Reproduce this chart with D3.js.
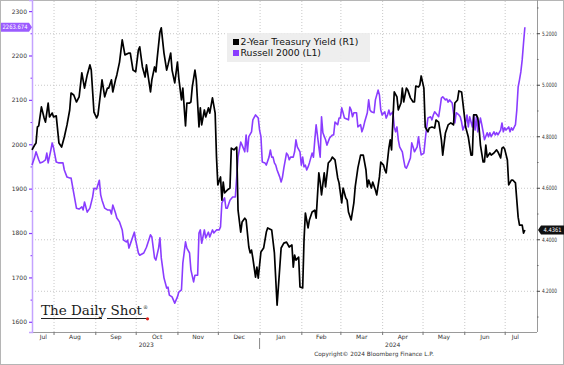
<!DOCTYPE html>
<html>
<head>
<meta charset="utf-8">
<script src="https://cdn.jsdelivr.net/npm/d3@7"></script>
<style>
  body { margin: 0; background: #fff; }
  svg { display: block; font-family: "DejaVu Sans", Verdana, sans-serif; }
</style>
</head>
<body>
<svg id="chart" width="564" height="365"></svg>
<script>
// 2-year treasury yield (right axis, %)
const yieldSeries = [
  ["2023-07-16",4.747],["2023-07-18",4.766],["2023-07-19",4.774],["2023-07-20",4.836],["2023-07-21",4.840],
  ["2023-07-23",4.914],["2023-07-25",4.871],["2023-07-26",4.855],["2023-07-28",4.929],["2023-07-29",4.875],
  ["2023-07-31",4.890],["2023-08-01",4.875],["2023-08-03",4.879],["2023-08-05",4.774],["2023-08-07",4.758],
  ["2023-08-09",4.797],["2023-08-11",4.844],["2023-08-13",4.902],["2023-08-14",4.968],["2023-08-16",4.960],
  ["2023-08-18",4.933],["2023-08-20",4.953],["2023-08-22",5.046],["2023-08-24",4.987],["2023-08-26",5.038],
  ["2023-08-28",5.077],["2023-08-29",5.057],["2023-08-31",4.894],["2023-09-02",4.871],["2023-09-03",4.883],
  ["2023-09-05",4.972],["2023-09-06",5.019],["2023-09-08",4.953],["2023-09-10",4.987],["2023-09-11",4.987],
  ["2023-09-13",5.019],["2023-09-14",4.972],["2023-09-16",5.019],["2023-09-17",5.038],["2023-09-19",5.088],
  ["2023-09-21",5.174],["2023-09-23",5.116],["2023-09-26",5.123],["2023-09-27",5.123],["2023-09-29",5.057],
  ["2023-10-01",5.050],["2023-10-03",5.135],["2023-10-04",5.147],["2023-10-06",5.069],["2023-10-08",5.030],
  ["2023-10-09",5.077],["2023-10-12",4.972],["2023-10-13",5.019],["2023-10-15",5.069],["2023-10-16",5.050],
  ["2023-10-17",5.104],["2023-10-19",5.205],["2023-10-20",5.221],["2023-10-22",5.123],["2023-10-24",5.057],
  ["2023-10-25",5.077],["2023-10-27",5.123],["2023-10-28",5.057],["2023-10-30",5.007],["2023-11-01",5.088],
  ["2023-11-02",5.026],["2023-11-04",4.941],["2023-11-05",4.987],["2023-11-07",4.840],["2023-11-08",4.929],
  ["2023-11-10",4.929],["2023-11-11",4.933],["2023-11-12",4.991],["2023-11-14",5.057],["2023-11-15",5.019],
  ["2023-11-17",4.836],["2023-11-18",4.910],["2023-11-19",4.844],["2023-11-21",4.902],["2023-11-22",4.875],
  ["2023-11-24",4.910],["2023-11-25",4.890],["2023-11-27",4.949],["2023-11-29",4.890],["2023-11-30",4.719],
  ["2023-12-01",4.611],["2023-12-03",4.642],["2023-12-04",4.552],["2023-12-05",4.622],["2023-12-06",4.580],
  ["2023-12-08",4.591],["2023-12-10",4.599],["2023-12-11",4.754],["2023-12-13",4.747],["2023-12-15",4.758],
  ["2023-12-16",4.513],["2023-12-18",4.428],["2023-12-19",4.467],["2023-12-21",4.482],["2023-12-22",4.475],
  ["2023-12-24",4.370],["2023-12-25",4.347],["2023-12-26",4.358],["2023-12-27",4.327],["2023-12-29",4.253],
  ["2023-12-30",4.292],["2023-12-31",4.249],["2024-01-02",4.351],["2024-01-04",4.366],["2024-01-06",4.428],
  ["2024-01-07",4.444],["2024-01-10",4.436],["2024-01-12",4.347],["2024-01-14",4.144],["2024-01-16",4.292],
  ["2024-01-17",4.366],["2024-01-19",4.385],["2024-01-21",4.389],["2024-01-23",4.370],["2024-01-25",4.378],
  ["2024-01-26",4.292],["2024-01-27",4.339],["2024-01-28",4.319],["2024-01-30",4.331],["2024-01-31",4.215],
  ["2024-02-02",4.211],["2024-02-03",4.397],["2024-02-04",4.502],["2024-02-06",4.444],["2024-02-07",4.475],
  ["2024-02-09",4.506],["2024-02-11",4.513],["2024-02-12",4.482],["2024-02-14",4.658],["2024-02-15",4.622],
  ["2024-02-16",4.572],["2024-02-18",4.658],["2024-02-19",4.603],["2024-02-21",4.696],["2024-02-23",4.708],
  ["2024-02-24",4.719],["2024-02-26",4.708],["2024-02-28",4.638],["2024-02-29",4.619],["2024-03-02",4.541],
  ["2024-03-03",4.599],["2024-03-05",4.560],["2024-03-06",4.552],["2024-03-07",4.506],["2024-03-09",4.475],
  ["2024-03-11",4.541],["2024-03-12",4.603],["2024-03-14",4.677],["2024-03-16",4.727],["2024-03-18",4.727],
  ["2024-03-20",4.669],["2024-03-21",4.603],["2024-03-22",4.630],["2024-03-24",4.599],["2024-03-25",4.622],
  ["2024-03-27",4.591],["2024-03-28",4.572],["2024-03-30",4.642],["2024-03-31",4.700],["2024-04-02",4.688],
  ["2024-04-03",4.669],["2024-04-04",4.658],["2024-04-06",4.754],["2024-04-07",4.786],["2024-04-08",4.747],
  ["2024-04-09",4.863],["2024-04-10",4.972],["2024-04-12",4.953],["2024-04-13",4.902],["2024-04-15",4.929],
  ["2024-04-16",4.987],["2024-04-17",4.933],["2024-04-19",4.987],["2024-04-20",4.980],["2024-04-22",4.949],
  ["2024-04-24",4.933],["2024-04-25",4.933],["2024-04-26",4.995],["2024-04-28",4.991],["2024-04-29",4.999],
  ["2024-04-30",5.034],["2024-05-02",4.987],["2024-05-03",4.836],["2024-05-05",4.817],["2024-05-06",4.832],
  ["2024-05-08",4.836],["2024-05-10",4.832],["2024-05-11",4.863],["2024-05-13",4.855],["2024-05-15",4.786],
  ["2024-05-16",4.727],["2024-05-18",4.813],["2024-05-20",4.844],["2024-05-22",4.852],["2024-05-24",4.844],
  ["2024-05-25",4.929],["2024-05-27",4.941],["2024-05-28",4.976],["2024-05-30",4.972],["2024-05-31",4.929],
  ["2024-06-01",4.883],["2024-06-02",4.836],["2024-06-04",4.797],["2024-06-06",4.727],["2024-06-07",4.727],
  ["2024-06-08",4.883],["2024-06-10",4.883],["2024-06-11",4.871],["2024-06-12",4.832],["2024-06-13",4.766],
  ["2024-06-15",4.700],["2024-06-16",4.700],["2024-06-17",4.766],["2024-06-18",4.719],["2024-06-20",4.735],
  ["2024-06-21",4.727],["2024-06-23",4.735],["2024-06-25",4.747],["2024-06-26",4.739],["2024-06-28",4.716],
  ["2024-06-29",4.754],["2024-06-30",4.758],["2024-07-01",4.750],["2024-07-03",4.708],["2024-07-04",4.611],
  ["2024-07-06",4.630],["2024-07-07",4.630],["2024-07-09",4.619],["2024-07-10",4.552],["2024-07-11",4.486],
  ["2024-07-12",4.455],["2024-07-14",4.455],["2024-07-15",4.424],["2024-07-16",4.4361]
];

// Russell 2000 index (left axis)
const russellSeries = [
  ["2023-07-16",1953],["2023-07-18",1971],["2023-07-19",1983],["2023-07-21",1965],["2023-07-22",1958],
  ["2023-07-24",1960],["2023-07-26",1965],["2023-07-27",1980],["2023-07-28",1958],["2023-07-30",1987],
  ["2023-07-31",2003],["2023-08-01",1992],["2023-08-03",1960],["2023-08-05",1958],["2023-08-06",1958],
  ["2023-08-08",1958],["2023-08-09",1942],["2023-08-11",1926],["2023-08-13",1924],["2023-08-14",1924],
  ["2023-08-16",1890],["2023-08-18",1856],["2023-08-20",1854],["2023-08-22",1859],["2023-08-23",1852],
  ["2023-08-24",1870],["2023-08-26",1847],["2023-08-28",1856],["2023-08-30",1881],["2023-08-31",1901],
  ["2023-09-02",1899],["2023-09-04",1919],["2023-09-05",1886],["2023-09-06",1874],["2023-09-08",1856],
  ["2023-09-10",1852],["2023-09-12",1852],["2023-09-13",1843],["2023-09-14",1863],["2023-09-16",1845],
  ["2023-09-17",1834],["2023-09-19",1825],["2023-09-21",1807],["2023-09-22",1784],["2023-09-24",1780],
  ["2023-09-25",1784],["2023-09-26",1766],["2023-09-28",1784],["2023-09-30",1802],["2023-10-01",1784],
  ["2023-10-03",1755],["2023-10-04",1750],["2023-10-07",1755],["2023-10-09",1768],["2023-10-12",1796],
  ["2023-10-13",1791],["2023-10-15",1744],["2023-10-16",1739],["2023-10-18",1766],["2023-10-19",1789],
  ["2023-10-20",1744],["2023-10-22",1699],["2023-10-24",1676],["2023-10-25",1678],["2023-10-26",1660],
  ["2023-10-28",1656],["2023-10-30",1642],["2023-11-01",1656],["2023-11-02",1667],["2023-11-04",1672],
  ["2023-11-05",1732],["2023-11-07",1780],["2023-11-08",1766],["2023-11-10",1755],["2023-11-11",1717],
  ["2023-11-13",1690],["2023-11-14",1705],["2023-11-16",1705],["2023-11-17",1800],["2023-11-18",1807],
  ["2023-11-19",1777],["2023-11-21",1807],["2023-11-22",1789],["2023-11-24",1802],["2023-11-25",1791],
  ["2023-11-27",1807],["2023-11-28",1800],["2023-11-30",1807],["2023-12-02",1807],["2023-12-03",1814],
  ["2023-12-04",1868],["2023-12-06",1879],["2023-12-07",1856],["2023-12-08",1856],["2023-12-10",1874],
  ["2023-12-12",1881],["2023-12-14",1881],["2023-12-15",1926],["2023-12-16",1971],["2023-12-18",2005],
  ["2023-12-19",1998],["2023-12-21",1983],["2023-12-22",2021],["2023-12-23",1983],["2023-12-24",2017],
  ["2023-12-26",2028],["2023-12-27",2055],["2023-12-29",2066],["2023-12-31",2059],["2024-01-01",2032],
  ["2024-01-02",2017],["2024-01-03",1960],["2024-01-05",1958],["2024-01-06",1953],["2024-01-08",1971],
  ["2024-01-09",1987],["2024-01-10",1971],["2024-01-11",1971],["2024-01-12",1958],["2024-01-13",1953],
  ["2024-01-14",1942],["2024-01-16",1926],["2024-01-17",1915],["2024-01-18",1926],["2024-01-19",1946],
  ["2024-01-21",1980],["2024-01-22",1976],["2024-01-23",1965],["2024-01-24",1971],["2024-01-26",1971],
  ["2024-01-27",1983],["2024-01-28",2010],["2024-01-29",1994],["2024-01-31",1983],["2024-02-01",1953],
  ["2024-02-02",1971],["2024-02-03",1949],["2024-02-04",1953],["2024-02-05",1942],["2024-02-06",1949],
  ["2024-02-07",1958],["2024-02-09",1980],["2024-02-10",1971],["2024-02-11",2010],["2024-02-12",2044],
  ["2024-02-14",1994],["2024-02-15",1971],["2024-02-16",2062],["2024-02-17",2026],["2024-02-19",2010],
  ["2024-02-20",1998],["2024-02-22",2014],["2024-02-24",2021],["2024-02-25",2021],["2024-02-26",2050],
  ["2024-02-28",2044],["2024-02-29",2059],["2024-03-01",2059],["2024-03-02",2082],["2024-03-03",2071],
  ["2024-03-04",2059],["2024-03-07",2055],["2024-03-08",2084],["2024-03-09",2077],["2024-03-10",2062],
  ["2024-03-11",2071],["2024-03-13",2071],["2024-03-14",2039],["2024-03-16",2044],["2024-03-17",2028],
  ["2024-03-18",2037],["2024-03-19",2050],["2024-03-21",2071],["2024-03-22",2100],["2024-03-23",2077],
  ["2024-03-24",2073],["2024-03-26",2071],["2024-03-27",2100],["2024-03-29",2122],["2024-03-30",2111],
  ["2024-03-31",2077],["2024-04-01",2066],["2024-04-03",2073],["2024-04-04",2059],["2024-04-05",2066],
  ["2024-04-06",2077],["2024-04-07",2066],["2024-04-09",2073],["2024-04-10",2039],["2024-04-11",2028],
  ["2024-04-12",2039],["2024-04-13",2010],["2024-04-14",1994],["2024-04-16",1983],["2024-04-17",1965],
  ["2024-04-18",1949],["2024-04-19",1946],["2024-04-20",1953],["2024-04-22",1969],["2024-04-23",2003],
  ["2024-04-24",1994],["2024-04-25",1983],["2024-04-27",1994],["2024-04-28",2017],["2024-04-29",1994],
  ["2024-04-30",1976],["2024-05-02",1980],["2024-05-03",2010],["2024-05-04",2037],["2024-05-05",2059],
  ["2024-05-07",2062],["2024-05-08",2055],["2024-05-09",2066],["2024-05-10",2073],["2024-05-12",2066],
  ["2024-05-13",2062],["2024-05-14",2082],["2024-05-15",2104],["2024-05-16",2107],["2024-05-18",2100],
  ["2024-05-19",2102],["2024-05-20",2095],["2024-05-21",2100],["2024-05-23",2093],["2024-05-24",2071],
  ["2024-05-25",2048],["2024-05-26",2071],["2024-05-28",2066],["2024-05-29",2062],["2024-05-30",2050],
  ["2024-05-31",2032],["2024-06-02",2048],["2024-06-03",2066],["2024-06-04",2039],["2024-06-05",2062],
  ["2024-06-07",2039],["2024-06-08",2066],["2024-06-09",2032],["2024-06-10",2062],["2024-06-11",2028],
  ["2024-06-13",2059],["2024-06-14",2044],["2024-06-15",2028],["2024-06-16",2010],["2024-06-18",2026],
  ["2024-06-19",2017],["2024-06-20",2026],["2024-06-21",2017],["2024-06-23",2028],["2024-06-24",2021],
  ["2024-06-25",2026],["2024-06-26",2021],["2024-06-28",2032],["2024-06-29",2048],["2024-06-30",2028],
  ["2024-07-01",2037],["2024-07-02",2032],["2024-07-04",2039],["2024-07-05",2028],["2024-07-06",2037],
  ["2024-07-07",2032],["2024-07-09",2044],["2024-07-10",2077],["2024-07-11",2129],["2024-07-12",2145],
  ["2024-07-13",2163],["2024-07-14",2190],["2024-07-15",2228],["2024-07-16",2263.674]
];

const leftTicks = [1600, 1700, 1800, 1900, 2000, 2100, 2200, 2300];
const leftMinor = [1650, 1750, 1850, 1950, 2050, 2150, 2250];
const rightTicks = [4.2, 4.4, 4.6, 4.8, 5.0, 5.2];
const rightMinor = [4.1, 4.3, 4.5, 4.7, 4.9, 5.1, 5.3];
const monthLabels = ["Jul", "Aug", "Sep", "Oct", "Nov", "Dec", "Jan", "Feb", "Mar", "Apr", "May", "Jun", "Jul"];
const yearLabels = ["2023", "2024"];
const legendLabels = ["2-Year Treasury Yield (R1)", "Russell 2000 (L1)"];

const purple = "#8a3cff";
const parse = d3.timeParse("%Y-%m-%d");
const yieldData = yieldSeries.map(([d, v]) => ({ date: parse(d), value: v }));
const russellData = russellSeries.map(([d, v]) => ({ date: parse(d), value: v }));

const svg = d3.select("#chart");
const plot = { left: 32, right: 537, top: 0, bottom: 332 };

const x = d3.scaleTime()
  .domain([parse("2023-07-16"), parse("2024-07-25")])
  .range([plot.left, plot.right]);
const yL = d3.scaleLinear().domain([1577, 2325]).range([plot.bottom, plot.top]);
const yR = d3.scaleLinear().domain([4.04, 5.329]).range([plot.bottom, plot.top]);

// outer frame
svg.append("rect")
  .attr("x", 0.5).attr("y", 0.5).attr("width", 563).attr("height", 364)
  .attr("fill", "#fff").attr("stroke", "#b5b5b5");

// grid: horizontal lines follow the right axis, vertical ones the months
const firstDate = yieldData[0].date;
const lastDate = yieldData[yieldData.length - 1].date;
const monthStarts = d3.timeMonth.range(d3.timeMonth.ceil(firstDate), lastDate);

svg.append("g")
  .attr("transform", `translate(${plot.right},0)`)
  .call(d3.axisLeft(yR).tickValues(rightTicks).tickSize(plot.right - plot.left).tickFormat(""))
  .call((g) => g.select(".domain").remove())
  .call((g) => g.selectAll(".tick line").attr("stroke", "#c8c8c8").attr("stroke-dasharray", "1,2"));

svg.append("g")
  .attr("transform", `translate(0,${plot.bottom})`)
  .call(d3.axisTop(x).tickValues(monthStarts).tickSize(plot.bottom - plot.top).tickFormat(""))
  .call((g) => g.select(".domain").remove())
  .call((g) => g.selectAll(".tick line").attr("stroke", "#c8c8c8").attr("stroke-dasharray", "1,2"));

// frame lines
svg.append("line").attr("x1", plot.left).attr("x2", plot.right)
  .attr("y1", plot.bottom + 0.5).attr("y2", plot.bottom + 0.5).attr("stroke", "#9a9a9a");
svg.append("line").attr("x1", plot.right + 0.5).attr("x2", plot.right + 0.5)
  .attr("y1", plot.top).attr("y2", plot.bottom).attr("stroke", "#9a9a9a");

// left axis (Russell 2000)
svg.append("g")
  .attr("transform", `translate(${plot.left},0)`)
  .call(d3.axisLeft(yL).tickValues(leftTicks).tickSize(3).tickPadding(2).tickFormat(d3.format("d")))
  .call((g) => g.select(".domain").attr("stroke", "#c4a3ff").attr("stroke-width", 1.5))
  .call((g) => g.selectAll(".tick line").attr("stroke", purple).attr("stroke-width", 1.2))
  .call((g) => g.selectAll(".tick text").attr("fill", "#333").attr("font-size", 6)
    .attr("font-family", "DejaVu Sans, sans-serif"));
svg.append("g")
  .attr("transform", `translate(${plot.left},0)`)
  .call(d3.axisLeft(yL).tickValues(leftMinor).tickSize(1.5).tickFormat(""))
  .call((g) => g.select(".domain").remove())
  .call((g) => g.selectAll(".tick line").attr("stroke", purple));

// right axis (2-year yield)
svg.append("g")
  .attr("transform", `translate(${plot.right},0)`)
  .call(d3.axisRight(yR).tickValues(rightTicks).tickSize(3).tickPadding(2).tickFormat(d3.format(".4f")))
  .call((g) => g.select(".domain").remove())
  .call((g) => g.selectAll(".tick line").attr("stroke", "#444"))
  .call((g) => g.selectAll(".tick text").attr("fill", "#333").attr("font-size", 6)
    .attr("font-family", "DejaVu Sans, sans-serif")
    .attr("textLength", 15).attr("lengthAdjust", "spacingAndGlyphs"));
svg.append("g")
  .attr("transform", `translate(${plot.right},0)`)
  .call(d3.axisRight(yR).tickValues(rightMinor.filter((v) => yR(v) > 0)).tickSize(1.5).tickFormat(""))
  .call((g) => g.select(".domain").remove())
  .call((g) => g.selectAll(".tick line").attr("stroke", "#666"));

// bottom axis: month separators + centred month names
svg.append("g")
  .attr("transform", `translate(0,${plot.bottom})`)
  .call(d3.axisBottom(x).tickValues(monthStarts).tickSize(3).tickFormat(""))
  .call((g) => g.select(".domain").remove())
  .call((g) => g.selectAll(".tick line").attr("stroke", "#777"));

const bounds = [firstDate, ...monthStarts, lastDate];
const monthMids = d3.pairs(bounds).map(([a, b]) => new Date((+a + +b) / 2));
svg.append("g")
  .attr("transform", `translate(0,${plot.bottom})`)
  .call(d3.axisBottom(x).tickValues(monthMids).tickSize(0).tickPadding(3)
    .tickFormat((d, i) => monthLabels[i]))
  .call((g) => g.select(".domain").remove())
  .call((g) => g.selectAll(".tick text").attr("fill", "#333").attr("font-size", 6)
    .attr("font-family", "DejaVu Sans, sans-serif"));

// year labels and the year separator
const jan1 = parse("2024-01-01");
const yearMids = [new Date((+firstDate + +jan1) / 2), new Date((+jan1 + +lastDate) / 2)];
svg.append("g")
  .attr("transform", `translate(0,${plot.bottom + 10})`)
  .call(d3.axisBottom(x).tickValues(yearMids).tickSize(0).tickPadding(1)
    .tickFormat((d, i) => yearLabels[i]))
  .call((g) => g.select(".domain").remove())
  .call((g) => g.selectAll(".tick text").attr("fill", "#333").attr("font-size", 6)
    .attr("font-family", "DejaVu Sans, sans-serif"));
svg.append("line")
  .attr("x1", x(jan1)).attr("x2", x(jan1))
  .attr("y1", plot.bottom + 6).attr("y2", plot.bottom + 17)
  .attr("stroke", "#888");

svg.append("text")
  .attr("x", 374).attr("y", 356)
  .attr("text-anchor", "middle")
  .attr("font-size", 5.8).attr("fill", "#333")
  .text("Copyright\u00a9 2024 Bloomberg Finance L.P.");

// lines
const lineR = d3.line().x((d) => x(d.date)).y((d) => yR(d.value));
const lineL = d3.line().x((d) => x(d.date)).y((d) => yL(d.value));

svg.append("path")
  .datum(russellData)
  .attr("fill", "none").attr("stroke", purple).attr("stroke-width", 1.6)
  .attr("stroke-linejoin", "round")
  .attr("d", lineL);

svg.append("path")
  .datum(yieldData)
  .attr("fill", "none").attr("stroke", "#000").attr("stroke-width", 1.7)
  .attr("stroke-linejoin", "round")
  .attr("d", lineR);

// last-value tags
const lastR = russellData[russellData.length - 1];
const ty = yL(lastR.value);
svg.append("path")
  .attr("d", `M1,${ty - 4.5}H29L32,${ty}L29,${ty + 4.5}H1Z`)
  .attr("fill", "#9b5cff");
svg.append("text")
  .attr("x", 15).attr("y", ty).attr("dy", "0.35em")
  .attr("text-anchor", "middle").attr("font-size", 6).attr("fill", "#fff")
  .attr("textLength", 25).attr("lengthAdjust", "spacingAndGlyphs")
  .text(d3.format(".3f")(lastR.value));

const lastY = yieldData[yieldData.length - 1];
const by = yR(lastY.value);
svg.append("path")
  .attr("d", `M538,${by}L541,${by - 4.5}H564V${by + 4.5}H541Z`)
  .attr("fill", "#111");
svg.append("text")
  .attr("x", 552.5).attr("y", by).attr("dy", "0.35em")
  .attr("text-anchor", "middle").attr("font-size", 6).attr("fill", "#fff")
  .attr("textLength", 18).attr("lengthAdjust", "spacingAndGlyphs")
  .text(d3.format(".4f")(lastY.value));

// legend
const legend = svg.append("g").attr("transform", "translate(227,33)");
legend.append("rect")
  .attr("width", 143).attr("height", 29)
  .attr("fill", "#ececec").attr("fill-opacity", 0.9);
legend.selectAll("g.key")
  .data(legendLabels)
  .join("g")
  .attr("class", "key")
  .attr("transform", (d, i) => `translate(6,${9 + i * 11})`)
  .call((g) => g.append("rect")
    .attr("x", 0).attr("y", -3).attr("width", 6).attr("height", 6)
    .attr("fill", (d, i) => (i === 0 ? "#000" : purple)))
  .call((g) => g.append("text")
    .attr("x", 7.5).attr("dy", "0.36em")
    .attr("font-size", 9.3).attr("fill", "#111")
    .text((d) => d));

// The Daily Shot mark
const logo = svg.append("g").attr("transform", "translate(41,315)");
logo.append("text")
  .attr("font-family", "DejaVu Serif, Georgia, serif")
  .attr("font-size", 13.5).attr("fill", "#1a1a1a")
  .attr("textLength", 101).attr("lengthAdjust", "spacingAndGlyphs")
  .text("The Daily Shot");
logo.append("text")
  .attr("x", 102).attr("y", -6)
  .attr("font-family", "DejaVu Serif, serif")
  .attr("font-size", 5).attr("fill", "#222")
  .text("\u00ae");
logo.append("line").attr("x1", 0).attr("x2", 61).attr("y1", 3.5).attr("y2", 3.5)
  .attr("stroke", "#222").attr("stroke-width", 1);
logo.append("line").attr("x1", 66).attr("x2", 106).attr("y1", 3.5).attr("y2", 3.5)
  .attr("stroke", "#222").attr("stroke-width", 1);
logo.append("circle").attr("cx", 106.5).attr("cy", 3.8).attr("r", 1.6).attr("fill", "#e0201c");
</script>
</body>
</html>
